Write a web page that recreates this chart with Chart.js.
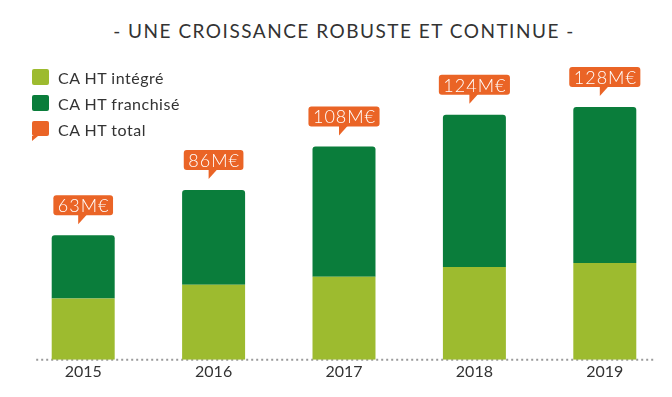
<!DOCTYPE html>
<html>
<head>
<meta charset="utf-8">
<script src="https://cdn.jsdelivr.net/npm/chart.js@4.4.1/dist/chart.umd.min.js"></script>
<style>
    body { margin: 0; background: #fff; }
    #wrap { position: relative; width: 672px; height: 397px; overflow: hidden; }
    #chart { position: absolute; left: 0; top: 0; }
    #title {
        position: absolute; left: 0; top: 19px; width: 688px; text-align: center;
        font-family: Lato, sans-serif; font-size: 19px; letter-spacing: 1.5px; color: #333;
    }
    #legend { position: absolute; left: 32px; top: 64px; font-family: Lato, sans-serif; font-size: 16px; color: #333; }
    .item { height: 26px; display: flex; align-items: center; letter-spacing: 0.5px; }
    .box { width: 17px; height: 16px; border-radius: 2px; margin-right: 9px; }
    .bubble { position: relative; background: #ea6426; height: 15px; margin-bottom: 1px; }
    .bubble:after {
        content: ''; position: absolute; left: 0; bottom: -5px;
        border-left: 6px solid #ea6426; border-bottom: 5px solid transparent;
    }
</style>
</head>
<body>
<div id="wrap">
    <div id="title">- UNE CROISSANCE ROBUSTE ET CONTINUE -</div>
    <canvas id="chart" width="672" height="397"></canvas>
    <div id="legend">
        <div class="item"><div class="box" style="background:#9dbb2f"></div>CA HT intégré</div>
        <div class="item"><div class="box" style="background:#0a7d3b"></div>CA HT franchisé</div>
        <div class="item"><div class="box bubble"></div>CA HT total</div>
    </div>
</div>
<script>
// Chiffre d'affaires HT (M€)
const years = ['2015', '2016', '2017', '2018', '2019'];
const integre = [31, 38, 42, 47, 49];
const franchise = [32, 48, 66, 77, 79];
const totals = [63, 86, 108, 124, 128];

const green = '#9dbb2f';
const darkGreen = '#0a7d3b';
const orange = '#ea6426';

// dotted baseline under the bars
const baseline = {
    id: 'baseline',
    beforeDatasetsDraw(chart) {
        const ctx = chart.ctx;
        const xs = chart.scales.x;
        const y = chart.scales.y.getPixelForValue(0);
        ctx.save();
        ctx.strokeStyle = '#9a9a9a';
        ctx.lineWidth = 2;
        ctx.setLineDash([2, 3]);
        ctx.beginPath();
        ctx.moveTo(xs.getPixelForValue(0) - 47, y);
        ctx.lineTo(xs.getPixelForValue(years.length - 1) + 50, y);
        ctx.stroke();
        ctx.restore();
    }
};

// orange speech bubbles with the total on top of each stack
const bubbles = {
    id: 'bubbles',
    afterDatasetsDraw(chart) {
        const ctx = chart.ctx;
        const meta = chart.getDatasetMeta(1);
        ctx.save();
        ctx.font = '300 18px Lato, sans-serif';
        ctx.letterSpacing = '1px';
        ctx.textAlign = 'center';
        ctx.textBaseline = 'middle';
        meta.data.forEach(function (bar, i) {
            const label = totals[i] + 'M€';
            const w = ctx.measureText(label).width + 8;
            const h = 20;
            const bottom = bar.y - 20;
            const left = bar.x - w / 2;
            ctx.fillStyle = orange;
            ctx.beginPath();
            ctx.roundRect(left, bottom - h, w, h, 3);
            ctx.fill();
            ctx.beginPath();
            ctx.moveTo(bar.x - 5, bottom - 1);
            ctx.lineTo(bar.x - 5, bottom + 9);
            ctx.lineTo(bar.x + 4, bottom - 1);
            ctx.closePath();
            ctx.fill();
            ctx.fillStyle = '#fff';
            ctx.fillText(label, bar.x + 0.5, bottom - h / 2 + 1);
        });
        ctx.restore();
    }
};

new Chart(document.getElementById('chart'), {
    type: 'bar',
    data: {
        labels: years,
        datasets: [{
            label: 'CA HT intégré',
            data: integre,
            backgroundColor: green,
            barPercentage: 0.6,
            categoryPercentage: 0.805
        }, {
            label: 'CA HT franchisé',
            data: franchise,
            backgroundColor: darkGreen,
            borderRadius: 3,
            barPercentage: 0.6,
            categoryPercentage: 0.805
        }]
    },
    options: {
        responsive: false,
        animation: false,
        layout: { padding: { left: 18, right: 2, top: 20, bottom: 14 } },
        plugins: {
            legend: { display: false },
            tooltip: { enabled: false }
        },
        scales: {
            x: {
                stacked: true,
                grid: { display: false, drawTicks: false },
                border: { display: false },
                ticks: {
                    color: '#333',
                    padding: 2,
                    font: { family: 'Lato, sans-serif', size: 16 }
                }
            },
            y: {
                stacked: true,
                display: false,
                min: 0,
                max: 172
            }
        }
    },
    plugins: [baseline, bubbles]
});
</script>
</body>
</html>
